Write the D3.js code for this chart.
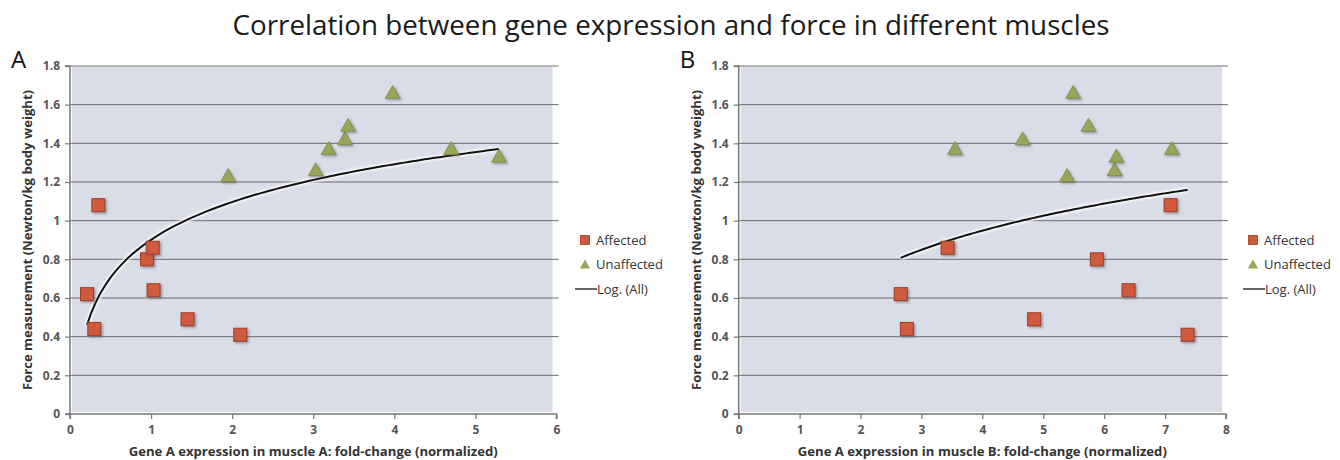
<!DOCTYPE html>
<html>
<head>
<meta charset="utf-8">
<script src="https://d3js.org/d3.v7.min.js"></script>
<style>
  body { margin: 0; background: #fff; }
  svg text { font-family: "Open Sans", Lato, sans-serif; }
</style>
</head>
<body>
<div id="chart"></div>
<script>
// y values are shared by both panels (same animals)
var affectedY   = [0.62, 1.08, 0.44, 0.80, 0.86, 0.64, 0.49, 0.41];
var affectedXA  = [0.21, 0.35, 0.30, 0.95, 1.02, 1.03, 1.45, 2.10];
var affectedXB  = [2.66, 7.09, 2.76, 5.88, 3.43, 6.40, 4.85, 7.37];

var unaffectedY  = [1.23, 1.26, 1.37, 1.42, 1.49, 1.66, 1.37, 1.33];
var unaffectedXA = [1.95, 3.03, 3.19, 3.39, 3.43, 3.98, 4.70, 5.29];
var unaffectedXB = [5.39, 6.17, 3.55, 4.66, 5.74, 5.49, 7.11, 6.20];

var yTicks = [0, 0.2, 0.4, 0.6, 0.8, 1, 1.2, 1.4, 1.6, 1.8];
var xTicksA = [0, 1, 2, 3, 4, 5, 6];
var xTicksB = [0, 1, 2, 3, 4, 5, 6, 7, 8];

var legendItems = ["Affected", "Unaffected", "Log. (All)"];

var W = 1340, H = 460;
var svg = d3.select("#chart").append("svg")
    .attr("width", W).attr("height", H);

var defs = svg.append("defs");
defs.append("filter").attr("id", "shadow")
    .attr("x", "-50%").attr("y", "-50%").attr("width", "200%").attr("height", "200%")
  .append("feDropShadow")
    .attr("dx", 1.5).attr("dy", 1.5).attr("stdDeviation", 1.2)
    .attr("flood-color", "#555").attr("flood-opacity", 0.55);
defs.append("filter").attr("id", "glow")
    .attr("x", "-10%").attr("y", "-50%").attr("width", "120%").attr("height", "200%")
  .append("feGaussianBlur").attr("stdDeviation", 1);

svg.append("text")
    .attr("x", 671).attr("y", 35)
    .attr("text-anchor", "middle")
    .attr("font-size", 27.5)
    .attr("fill", "#1a1a1a")
    .attr("textLength", 877).attr("lengthAdjust", "spacingAndGlyphs")
    .text("Correlation between gene expression and force in different muscles");

function logFit(xs, ys) {
    var lx = xs.map(Math.log);
    var n = xs.length;
    var mx = d3.mean(lx), my = d3.mean(ys);
    var sxy = 0, sxx = 0;
    for (var i = 0; i < n; i++) {
        sxy += (lx[i] - mx) * (ys[i] - my);
        sxx += (lx[i] - mx) * (lx[i] - mx);
    }
    var a = sxy / sxx;
    return { a: a, b: my - a * mx };
}

function drawPanel(cfg) {
    var g = svg.append("g");
    var x = d3.scaleLinear().domain([0, cfg.xMax]).range([cfg.left, cfg.right]);
    var y = d3.scaleLinear().domain([0, 1.8]).range([414, 66]);

    // plot background
    g.append("rect")
        .attr("x", x(0) + 2).attr("y", y(1.8) + 1)
        .attr("width", x(cfg.xMax) - x(0) - 6)
        .attr("height", y(0) - y(1.8) - 3)
        .attr("fill", "#d9dde8");

    // gridlines
    g.selectAll("line.grid").data(yTicks.slice(1)).enter().append("line")
        .attr("x1", x(0)).attr("x2", x(cfg.xMax) + 2)
        .attr("y1", function(d) { return y(d); })
        .attr("y2", function(d) { return y(d); })
        .attr("stroke", "#6b6b6b").attr("stroke-width", 1);

    // y axis
    var yAxis = g.append("g")
        .attr("transform", "translate(" + x(0) + ",0)")
        .call(d3.axisLeft(y).tickValues(yTicks).tickSize(5).tickPadding(5)
            .tickFormat(function(d) { return String(+d.toFixed(1)); }));
    // x axis
    var xAxis = g.append("g")
        .attr("transform", "translate(0," + y(0) + ")")
        .call(d3.axisBottom(x).tickValues(cfg.xTicks).tickSize(5).tickPadding(6)
            .tickFormat(d3.format("d")));
    [yAxis, xAxis].forEach(function(ax) {
        ax.select(".domain").attr("stroke", "#777").attr("stroke-width", 1.5);
        ax.selectAll(".tick line").attr("stroke", "#777").attr("stroke-width", 1.2);
        ax.selectAll(".tick text")
            .attr("font-family", "'Open Sans', sans-serif")
            .attr("font-size", 12).attr("font-weight", "bold").attr("fill", "#555");
    });
    xAxis.select(".domain").attr("d", "M" + x(0) + ",5V0H" + x(cfg.xMax) + "V5");
    yAxis.select(".domain").attr("d", "M-5," + y(0) + "H0V" + y(1.8) + "H-5");

    // axis titles
    g.append("text")
        .attr("transform", "translate(" + (x(0) - 42) + "," + y(0.9) + ") rotate(-90)")
        .attr("text-anchor", "middle").attr("dy", "0.35em")
        .attr("font-size", 12).attr("font-weight", "bold").attr("fill", "#333")
        .attr("textLength", 300).attr("lengthAdjust", "spacingAndGlyphs")
        .text("Force measurement (Newton/kg body weight)");
    g.append("text")
        .attr("x", (x(0) + x(cfg.xMax)) / 2).attr("y", 456)
        .attr("text-anchor", "middle")
        .attr("font-size", 12).attr("font-weight", "bold").attr("fill", "#333")
        .attr("textLength", 369).attr("lengthAdjust", "spacingAndGlyphs")
        .text(cfg.xTitle);

    // panel letter
    g.append("text")
        .attr("x", cfg.left - 59).attr("y", 68)
        .attr("font-size", 24).attr("fill", "#111")
        .text(cfg.letter);

    // trendline (log fit over all points)
    var allX = cfg.affX.concat(cfg.unX);
    var allY = affectedY.concat(unaffectedY);
    var fit = logFit(allX, allY);
    var lo = d3.min(allX), hi = d3.max(allX);
    var xs = d3.range(0, 101).map(function(i) { return lo + (hi - lo) * i / 100; });
    var line = d3.line()
        .x(function(d) { return x(d); })
        .y(function(d) { return y(fit.a * Math.log(d) + fit.b); });
    g.append("path").datum(xs).attr("d", line)
        .attr("fill", "none").attr("stroke", "#fff").attr("stroke-width", 5)
        .attr("stroke-opacity", 0.9).attr("filter", "url(#glow)");
    g.append("path").datum(xs).attr("d", line)
        .attr("fill", "none").attr("stroke", "#111").attr("stroke-width", 2);

    // affected squares
    var s = 13;
    g.selectAll("rect.aff").data(cfg.affX).enter().append("rect")
        .attr("x", function(d) { return x(d) - s / 2; })
        .attr("y", function(d, i) { return y(affectedY[i]) - s / 2; })
        .attr("width", s).attr("height", s)
        .attr("fill", "#cf5a3e").attr("stroke", "#9c3d28").attr("stroke-width", 1)
        .attr("filter", "url(#shadow)");

    // unaffected triangles
    var tri = d3.symbol().type(d3.symbolTriangle).size(95);
    g.selectAll("path.un").data(cfg.unX).enter().append("path")
        .attr("d", tri)
        .attr("transform", function(d, i) { return "translate(" + x(d) + "," + (y(unaffectedY[i]) + 1) + ")"; })
        .attr("fill", "#99a55a").attr("stroke", "#7c8844").attr("stroke-width", 0.8)
        .attr("filter", "url(#shadow)");

    // legend
    var lg = g.append("g").attr("transform", "translate(" + cfg.legendX + ",240)");
    legendItems.forEach(function(name, i) {
        var row = lg.append("g").attr("transform", "translate(0," + (i * 24.5) + ")");
        if (i === 0) {
            row.append("rect").attr("x", -4.5).attr("y", -4.5).attr("width", 9).attr("height", 9)
                .attr("fill", "#cf5a3e").attr("stroke", "#9c3d28").attr("stroke-width", 0.8);
        } else if (i === 1) {
            row.append("path").attr("d", d3.symbol().type(d3.symbolTriangle).size(45))
                .attr("transform", "translate(0,1)")
                .attr("fill", "#99a55a");
        } else {
            row.append("line").attr("x1", -10).attr("x2", 12).attr("y1", 0).attr("y2", 0)
                .attr("stroke", "#333").attr("stroke-width", 1.5);
        }
        row.append("text")
            .attr("x", i === 2 ? 12 : 11).attr("y", 4.5)
            .attr("font-size", 13).attr("fill", "#333")
            .text(name);
    });
}

drawPanel({
    letter: "A", left: 70, right: 556.5, xMax: 6, xTicks: xTicksA,
    affX: affectedXA, unX: unaffectedXA, legendX: 585,
    xTitle: "Gene A expression in muscle A: fold-change (normalized)"
});
drawPanel({
    letter: "B", left: 738.7, right: 1226, xMax: 8, xTicks: xTicksB,
    affX: affectedXB, unX: unaffectedXB, legendX: 1253,
    xTitle: "Gene A expression in muscle B: fold-change (normalized)"
});
</script>
</body>
</html>
